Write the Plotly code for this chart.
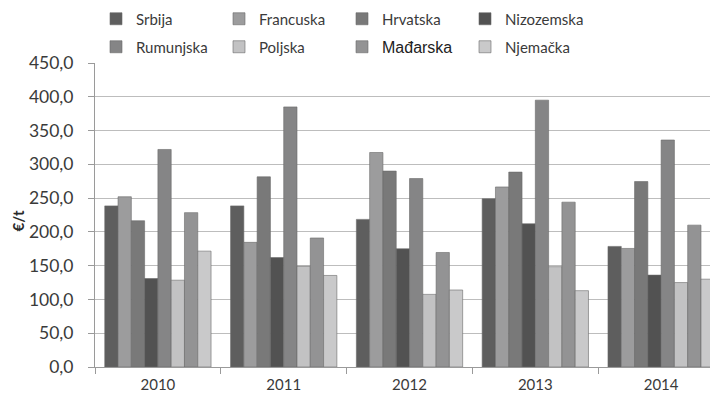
import plotly.graph_objects as go

years = ["2010", "2011", "2012", "2013", "2014"]
countries = ["Srbija", "Francuska", "Hrvatska", "Nizozemska",
             "Rumunjska", "Poljska", "Mađarska", "Njemačka"]
srbija = [238.5, 238.5, 218.5, 249.0, 178.5]
francuska = [252.0, 184.5, 317.5, 266.5, 175.5]
hrvatska = [216.5, 281.5, 290.0, 288.5, 274.5]
nizozemska = [131.0, 162.0, 175.0, 212.0, 136.0]
rumunjska = [322.0, 385.0, 279.0, 395.0, 336.0]
poljska = [128.5, 149.0, 107.5, 148.5, 125.0]
madarska = [228.5, 191.0, 169.5, 244.0, 210.0]
njemacka = [171.5, 135.5, 114.0, 113.0, 130.0]
series = [srbija, francuska, hrvatska, nizozemska,
          rumunjska, poljska, madarska, njemacka]
colors = ["#5e5e5e", "#9c9c9d", "#797979", "#525252",
          "#858586", "#c2c2c3", "#939394", "#c9c9ca"]
y_title = "€/t"

# the page body has an 8px margin, so the figure is 8px smaller than the window
W, H = 710, 393

fig = go.Figure()
for i, (name, vals, col) in enumerate(zip(countries, series, colors)):
    label = name
    if name == "Mađarska":
        label = '<span style="font-family:Liberation Sans;font-size:16px;color:#222">Mađarska</span>'
    fig.add_trace(go.Bar(
        x=years, y=vals, name=label,
        legend="legend" if i < 4 else "legend2",
        marker=dict(color=col, line=dict(color="#6a6a6a", width=0.6)),
    ))

leg_common = dict(
    orientation="h", xref="container", yref="container",
    x=88 / W, xanchor="left", yanchor="middle",
    entrywidth=78, entrywidthmode="pixels",
    font=dict(size=15, color="#3a3a3a"),
    itemclick=False, traceorder="normal",
    bgcolor="rgba(0,0,0,0)",
)

fig.update_layout(
    width=W, height=H,
    barmode="group", bargap=0.155, bargroupgap=0,
    paper_bgcolor="white", plot_bgcolor="white",
    margin=dict(l=87, r=0, t=55, b=34, autoexpand=False),
    separators=",.",
    font=dict(family="Lato, Open Sans, sans-serif", size=15, color="#3a3a3a"),
    legend=dict(leg_common, y=1 - 11 / H),
    legend2=dict(leg_common, y=1 - 39 / H),
    showlegend=True,
)
fig.update_xaxes(
    type="category", range=[-0.5, 4.452],
    showline=True, linecolor="#9a9a9a", linewidth=1,
    ticks="outside", tickson="boundaries", ticklen=6, tickcolor="#9a9a9a",
    ticklabelstandoff=4,
    tickfont=dict(size=15, color="#3a3a3a"),
    showgrid=False, automargin=False,
)
fig.update_yaxes(
    range=[0, 450], dtick=50, tickformat=".1f",
    showline=True, linecolor="#9a9a9a", linewidth=1,
    ticks="outside", ticklen=6, tickcolor="#9a9a9a",
    ticklabelstandoff=11,
    showgrid=True, gridcolor="#bdbdbd", gridwidth=1.3,
    tickfont=dict(size=17.5, color="#3a3a3a"),
    zeroline=False, automargin=False,
)
fig.add_annotation(
    text="<b>" + y_title + "</b>", textangle=-90,
    xref="paper", yref="paper", x=(10 - 87) / 623, y=(359.5 - 214) / 304,
    showarrow=False, font=dict(size=15, color="#2a2a2a"),
    xanchor="center", yanchor="middle", borderpad=0,
)

fig.write_html("out.html")
